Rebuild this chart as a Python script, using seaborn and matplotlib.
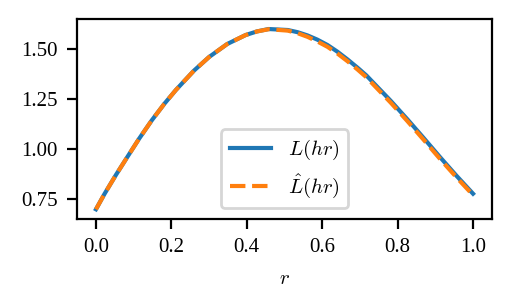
import numpy as np
import matplotlib
matplotlib.use("Agg")
import matplotlib.pyplot as plt
import seaborn as sns
import pandas as pd

# values
r = [0.000, 0.023, 0.053, 0.084, 0.114, 0.148, 0.181, 0.212, 0.260, 0.300,
     0.348, 0.397, 0.427, 0.458, 0.509, 0.535, 0.561, 0.587, 0.614, 0.640,
     0.667, 0.694, 0.717, 0.782, 0.826, 0.868, 0.912, 0.956, 1.000]
L_true = [0.698, 0.776, 0.870, 0.962, 1.050, 1.143, 1.225, 1.295, 1.392, 1.460,
          1.525, 1.570, 1.588, 1.600, 1.595, 1.584, 1.568, 1.547, 1.520, 1.487,
          1.448, 1.406, 1.368, 1.240, 1.148, 1.057, 0.960, 0.866, 0.776]
L_hat = [0.698, 0.776, 0.870, 0.962, 1.050, 1.143, 1.225, 1.295, 1.392, 1.460,
         1.525, 1.570, 1.588, 1.599, 1.592, 1.579, 1.561, 1.538, 1.511, 1.478,
         1.439, 1.397, 1.359, 1.231, 1.139, 1.048, 0.951, 0.858, 0.769]

plt.rcParams['font.family'] = 'serif'
plt.rcParams['font.serif'] = ['Liberation Serif', 'STIXGeneral', 'DejaVu Serif']
plt.rcParams['mathtext.fontset'] = 'cm'
plt.rcParams['font.size'] = 7.5

df = pd.DataFrame({"r": r, "L": L_true, "Lhat": L_hat})

fig, ax = plt.subplots(figsize=(514 / 200, 307 / 200), dpi=200)
sns.lineplot(data=df, x="r", y="L", ax=ax, color="#1f77b4", linewidth=1.5, label=r"$L(hr)$")
sns.lineplot(data=df, x="r", y="Lhat", ax=ax, color="#ff7f0e", linewidth=1.5,
             linestyle="--", label=r"$\hat{L}(hr)$")

ax.set_xticks([0.0, 0.2, 0.4, 0.6, 0.8, 1.0])
ax.set_yticks([0.75, 1.00, 1.25, 1.50])
ax.set_ylim(0.65, 1.65)
ax.set_xlabel(r"$r$", labelpad=4.5)
ax.set_ylabel("")
ax.legend(loc="lower center")

fig.subplots_adjust(left=0.15, right=0.957, bottom=0.287, top=0.938)
fig.savefig("out.png", dpi=200)
